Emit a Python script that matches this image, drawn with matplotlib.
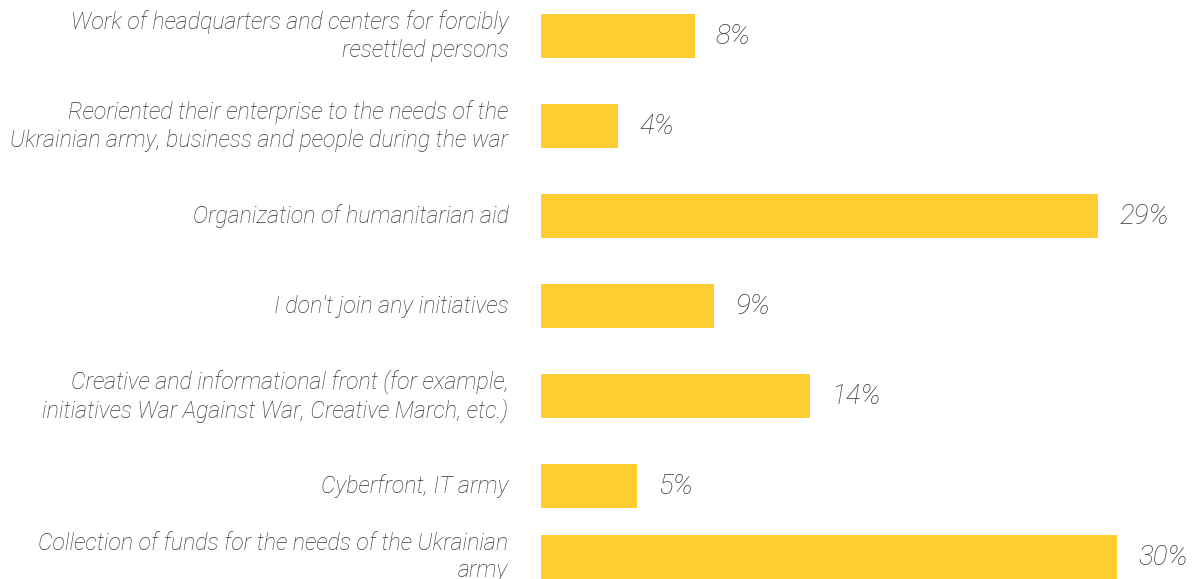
import numpy as np
import matplotlib.pyplot as plt

labels = [
    "Work of headquarters and centers for forcibly\nresettled persons",
    "Reoriented their enterprise to the needs of the\nUkrainian army, business and people during the war",
    "Organization of humanitarian aid",
    "I don't join any initiatives",
    "Creative and informational front (for example,\ninitiatives War Against War, Creative March, etc.)",
    "Cyberfront, IT army",
    "Collection of funds for the needs of the Ukrainian\narmy",
]
values = [8, 4, 29, 9, 14, 5, 30]

bar_color = "#FDCD31"
text_color = "#35353d"
font = dict(family="Roboto", style="italic", weight="light")


def main():
    fig = plt.figure(figsize=(11.92, 5.79), dpi=100)
    ax = fig.add_axes([0.454, 0.0, 0.546, 1.0])

    pos = np.arange(len(values), dtype=float)
    pos[-1] -= 0.21  # last bar sits a bit closer in the source

    ax.barh(pos, values, height=0.49, color=bar_color)
    for y, v in zip(pos, values):
        ax.text(v + 1.1, y, f"{v}%", va="center", ha="left",
                fontsize=20, color=text_color, **font)
    for y, lab in zip(pos, labels):
        ax.text(-1.7, y, lab, va="center", ha="right", fontsize=16.7,
                color=text_color, linespacing=1.25, **font)

    ax.set_xlim(0, 33.9)
    ax.set_ylim(6.033, -0.4)
    ax.axis("off")
    fig.savefig("out.png", dpi=100)


if __name__ == '__main__':
    main()
